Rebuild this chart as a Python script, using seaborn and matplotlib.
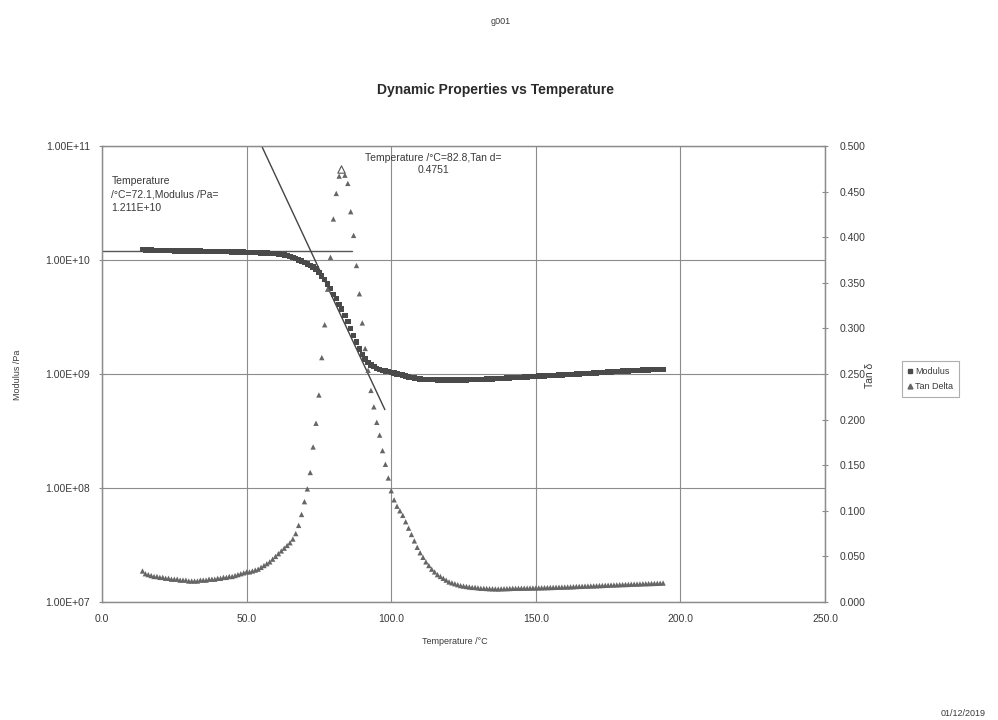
import numpy as np
import pandas as pd
import matplotlib
matplotlib.use("Agg")
import matplotlib.pyplot as plt
from matplotlib.lines import Line2D
from matplotlib.ticker import FuncFormatter, NullLocator
import seaborn as sns

# ---- measured data -------------------------------------------------------
temperature = list(range(14, 83)) + [82.8] + list(range(84, 195))

modulus = [
    1.23e10, 1.22e10, 1.22e10, 1.22e10, 1.21e10, 1.21e10,
    1.21e10, 1.21e10, 1.21e10, 1.21e10, 1.21e10, 1.20e10, 1.20e10, 1.20e10, 1.20e10, 1.20e10,
    1.20e10, 1.20e10, 1.20e10, 1.20e10, 1.20e10, 1.19e10, 1.19e10, 1.19e10, 1.19e10, 1.19e10,
    1.19e10, 1.19e10, 1.19e10, 1.19e10, 1.19e10, 1.18e10, 1.18e10, 1.18e10, 1.18e10, 1.18e10,
    1.17e10, 1.17e10, 1.165e10, 1.16e10, 1.16e10, 1.155e10, 1.15e10, 1.15e10, 1.145e10, 1.14e10,
    1.14e10, 1.13e10, 1.12e10, 1.11e10, 1.09e10, 1.07e10, 1.05e10, 1.03e10, 1.00e10, 9.8e9,
    9.5e9, 9.2e9, 8.9e9, 8.7e9, 8.32e9, 7.76e9, 7.24e9, 6.76e9, 6.17e9, 5.62e9,
    5.01e9, 4.57e9, 4.07e9,
    3.73e9,
    3.24e9, 2.88e9, 2.51e9, 2.19e9, 1.91e9, 1.66e9,
    1.48e9, 1.35e9, 1.26e9, 1.20e9, 1.16e9, 1.12e9, 1.10e9, 1.07e9, 1.06e9, 1.05e9,
    1.035e9, 1.02e9, 1.00e9, 9.89e8, 9.77e8, 9.60e8, 9.44e8, 9.33e8, 9.23e8, 9.12e8,
    9.02e8, 8.98e8, 8.95e8, 8.93e8, 8.91e8, 8.90e8, 8.89e8, 8.88e8, 8.87e8, 8.87e8,
    8.86e8, 8.86e8, 8.86e8, 8.87e8, 8.87e8, 8.88e8, 8.89e8, 8.90e8, 8.91e8, 8.93e8,
    8.95e8, 8.97e8, 8.99e8, 9.01e8, 9.03e8, 9.05e8, 9.08e8, 9.11e8, 9.14e8, 9.17e8,
    9.20e8, 9.23e8, 9.26e8, 9.29e8, 9.32e8, 9.35e8, 9.39e8, 9.43e8, 9.47e8, 9.51e8,
    9.55e8, 9.58e8, 9.61e8, 9.64e8, 9.67e8, 9.70e8, 9.73e8, 9.76e8, 9.79e8, 9.82e8,
    9.85e8, 9.88e8, 9.91e8, 9.94e8, 9.97e8, 1.000e9, 1.004e9, 1.008e9, 1.012e9, 1.016e9,
    1.020e9, 1.024e9, 1.028e9, 1.032e9, 1.036e9, 1.040e9, 1.044e9, 1.048e9, 1.052e9, 1.056e9,
    1.060e9, 1.063e9, 1.066e9, 1.069e9, 1.072e9, 1.075e9, 1.078e9, 1.081e9, 1.084e9, 1.087e9,
    1.090e9, 1.093e9, 1.096e9, 1.098e9, 1.100e9,
]

tan_delta = [
    0.034, 0.031, 0.030, 0.029, 0.028, 0.028,
    0.027, 0.027, 0.026, 0.026, 0.025, 0.025, 0.025, 0.024, 0.024, 0.024,
    0.023, 0.023, 0.023, 0.023, 0.024, 0.024, 0.024, 0.025, 0.025, 0.025,
    0.026, 0.026, 0.027, 0.027, 0.028, 0.028, 0.029, 0.030, 0.031, 0.032,
    0.033, 0.033, 0.034, 0.035, 0.036, 0.038, 0.040, 0.042, 0.044, 0.047,
    0.050, 0.053, 0.056, 0.059, 0.062, 0.065, 0.069, 0.075, 0.084, 0.096,
    0.110, 0.124, 0.142, 0.170, 0.196, 0.227, 0.268, 0.304, 0.343, 0.378,
    0.420, 0.448, 0.467,
    0.4751,
    0.468, 0.459, 0.428, 0.402, 0.369, 0.338,
    0.306, 0.278, 0.254, 0.232, 0.214, 0.197, 0.183, 0.166, 0.151, 0.136,
    0.122, 0.112, 0.105, 0.100, 0.095, 0.088, 0.081, 0.074, 0.067, 0.060,
    0.054, 0.049, 0.044, 0.040, 0.036, 0.033, 0.030, 0.028, 0.026, 0.024,
    0.022, 0.021, 0.020, 0.019, 0.018, 0.0175, 0.017, 0.0165, 0.016, 0.016,
    0.0155, 0.015, 0.015, 0.0148, 0.0146, 0.0145, 0.0144, 0.0143, 0.0145, 0.0146,
    0.0147, 0.0148, 0.0150, 0.0150, 0.0151, 0.0151, 0.0152, 0.0152, 0.0153, 0.0154,
    0.0154, 0.0155, 0.0156, 0.0157, 0.0158, 0.0159, 0.0160, 0.0161, 0.0162, 0.0163,
    0.0164, 0.0165, 0.0166, 0.0168, 0.0170, 0.0171, 0.0172, 0.0174, 0.0175, 0.0176,
    0.0177, 0.0178, 0.0180, 0.0181, 0.0183, 0.0184, 0.0186, 0.0187, 0.0188, 0.0190,
    0.0191, 0.0192, 0.0193, 0.0195, 0.0196, 0.0197, 0.0198, 0.0200, 0.0201, 0.0202,
    0.0203, 0.0204, 0.0205, 0.0206, 0.0208,
]

# onset construction (baseline + tangent) and tan delta peak
onset_temp = 72.1
onset_modulus = 1.211e10
tangent_slope = -0.0543          # decades per degree C
tangent_temps = [50.0, 97.8]
baseline_temps = [0.0, 86.4]
peak_temp = 82.8
peak_tan = 0.4751

x_ticks = [0, 50, 100, 150, 200, 250]
mod_ticks = [1e7, 1e8, 1e9, 1e10, 1e11]
tan_ticks = [0.0, 0.05, 0.10, 0.15, 0.20, 0.25, 0.30, 0.35, 0.40, 0.45, 0.50]

df = pd.DataFrame({"Temperature": temperature, "Modulus": modulus, "Tan Delta": tan_delta})

# ---- figure ---------------------------------------------------------------
sns.set_style("white")
plt.rcParams["font.family"] = ["Liberation Sans", "DejaVu Sans"]
text_col = "#3a3a3a"
grid_col = "#8c8c8c"

fig = plt.figure(figsize=(9.98, 7.2), dpi=100)
ax = fig.add_axes([0.1022, 0.1639, 0.7245, 0.6333])
ax2 = ax.twinx()

sns.scatterplot(data=df, x="Temperature", y="Modulus", ax=ax, marker="s", s=15,
                color="#4a4a4a", edgecolor="none", legend=False, zorder=3)
sns.scatterplot(data=df, x="Temperature", y="Tan Delta", ax=ax2, marker="^", s=15,
                color="#666666", edgecolor="none", legend=False, zorder=3)
ax2.scatter([peak_temp], [peak_tan], marker="^", s=28, facecolor="white",
            edgecolor="#555555", linewidth=0.8, zorder=4)

# onset construction lines
ax.plot(baseline_temps, [onset_modulus, onset_modulus], color="#555555", lw=1.0, zorder=2)
tangent_vals = [onset_modulus * 10 ** (tangent_slope * (t - onset_temp)) for t in tangent_temps]
ax.plot(tangent_temps, tangent_vals, color="#444444", lw=1.0, zorder=2)

ax.set_yscale("log")
ax.set_xlim(0, 250)
ax.set_ylim(1e7, 1e11)
ax2.set_ylim(0, 0.5)
ax.set_xticks(x_ticks)
ax.set_yticks(mod_ticks)
ax.yaxis.set_minor_locator(NullLocator())
ax2.set_yticks(tan_ticks)
ax.xaxis.set_major_formatter(FuncFormatter(lambda v, p: f"{v:.1f}"))
ax.yaxis.set_major_formatter(FuncFormatter(lambda v, p: f"{v:.2E}"))
ax2.yaxis.set_major_formatter(FuncFormatter(lambda v, p: f"{v:.3f}"))
ax.set_xlabel("")
ax.set_ylabel("")
ax2.set_ylabel("")

ax.grid(True, which="major", color=grid_col, lw=0.8)
ax2.grid(False)
for a in (ax, ax2):
    for sp in a.spines.values():
        sp.set_color(grid_col)
        sp.set_linewidth(0.9)
ax.tick_params(axis="both", which="major", labelsize=7.5, colors=grid_col,
               labelcolor=text_col, direction="inout", length=5, width=0.8, pad=6)
ax2.tick_params(axis="y", labelsize=7.5, colors=grid_col, labelcolor=text_col,
                direction="inout", length=5, width=0.8, pad=8)

# annotations
ax.text(0.013, 0.935, f"Temperature\n/°C={onset_temp},Modulus /Pa=\n{onset_modulus:.3E}",
        transform=ax.transAxes, ha="left", va="top", fontsize=7.5, color=text_col,
        linespacing=1.45)
ax.text(0.458, 0.985, f"Temperature /°C={peak_temp},Tan d=\n{peak_tan}",
        transform=ax.transAxes, ha="center", va="top", fontsize=7.5, color=text_col,
        linespacing=1.3, multialignment="center")

# labels, title and page text
fig.text(0.496, 1 - 90 / 720, "Dynamic Properties vs Temperature", ha="center",
         va="center", fontsize=10, fontweight="bold", color="#2a2a2a")
fig.text(0.456, 1 - 641 / 720, "Temperature /°C", ha="center", va="center",
         fontsize=6.5, color=text_col)
fig.text(0.018, 1 - 375 / 720, "Modulus /Pa", ha="center", va="center",
         rotation=90, fontsize=6.5, color=text_col)
fig.text(0.872, 1 - 375 / 720, "Tan δ", ha="center", va="center",
         rotation=90, fontsize=7.5, color=text_col)
fig.text(0.502, 1 - 22 / 720, "g001", ha="center", va="center", fontsize=6.5, color=text_col)
fig.text(0.965, 1 - 713 / 720, "01/12/2019", ha="center", va="center",
         fontsize=6.5, color=text_col)

handles = [
    Line2D([], [], marker="s", linestyle="none", color="#4a4a4a", markersize=3),
    Line2D([], [], marker="^", linestyle="none", color="#666666", markersize=3.5),
]
leg = fig.legend(handles, ["Modulus", "Tan Delta"], loc="center left",
                 bbox_to_anchor=(0.899, 1 - 379 / 720), fontsize=6.5, frameon=True,
                 fancybox=False, edgecolor="#9a9a9a", handlelength=0.6,
                 handletextpad=0.3, borderpad=0.6, labelspacing=0.7)
leg.get_frame().set_linewidth(0.8)
for t in leg.get_texts():
    t.set_color(text_col)

fig.savefig("out.png", dpi=100, facecolor="white")
